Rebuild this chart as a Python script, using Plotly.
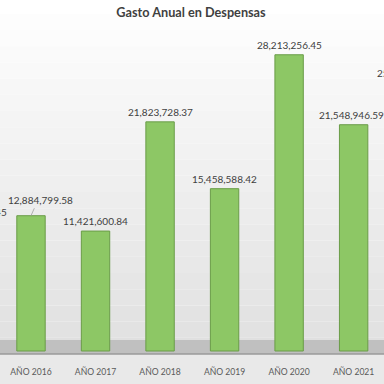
import plotly.graph_objects as go

# ---- data ----
categories = ["AÑO 2015", "AÑO 2016", "AÑO 2017", "AÑO 2018", "AÑO 2019",
              "AÑO 2020", "AÑO 2021", "AÑO 2022"]
gasto = [12263118.45, 12884799.58, 11421600.84, 21823728.37, 15458588.42,
         28213256.45, 21548946.59, 25486402.12]
visible_ticks = categories[1:-1]
title_text = "Gasto Anual en Despensas"

# label nudges (style): Excel labels that were dragged
label_dx = [8, 9, 0, 0, 0, 0, -2, -9]
label_dy = [0, 6, 0, 0, 0, 0, 0, 0]

# the chart is wider than the window; the window shows the middle part
VIEW_W, H = 384, 384
OFF = 70
W = VIEW_W + 2 * OFF
PX_PER_CAT = 64.5

fig = go.Figure()

fig.add_trace(go.Bar(
    x=categories, y=gasto, width=0.44,
    marker=dict(color="#8dc765", line=dict(color="#6a9c48", width=1)),
    cliponaxis=False, hoverinfo="skip",
))

annotations = []
for cat, v, dx, dy in zip(categories, gasto, label_dx, label_dy):
    annotations.append(dict(
        x=cat, y=v, xref="x", yref="y", text=f"{v:,.2f}",
        showarrow=False, xanchor="center", yanchor="bottom",
        xshift=dx, yshift=2 + dy,
        font=dict(family="Lato", size=10, color="#404040")))
# leader line for the dragged 2016 label
annotations.append(dict(
    x=categories[1], y=gasto[1], xref="x", yref="y", text="",
    showarrow=True, arrowhead=0, arrowwidth=0.8, arrowcolor="#a0a0a0",
    ax=4, ay=-9, standoff=0))

# background gradient bands (style only)
shapes = []
n = 24
for i in range(n):
    t = i / (n - 1)
    c = int(255 - 33 * t)
    shapes.append(dict(type="rect", xref="paper", yref="paper", layer="below",
                       x0=-0.01, x1=1.01, y0=1.1 - (i + 1) * 1.2 / n, y1=1.1 - i * 1.2 / n,
                       fillcolor=f"rgb({c},{c},{c})", line=dict(width=0)))
# floor band
shapes.append(dict(type="rect", xref="paper", yref="paper", layer="below",
                   x0=-0.01, x1=1.01, y0=0.0, y1=14 / 324,
                   fillcolor="#c0c0c0", line=dict(width=0)))
shapes.append(dict(type="line", xref="paper", yref="paper", layer="above",
                   x0=-0.01, x1=1.01, y0=0.0, y1=0.0,
                   line=dict(color="#9a9a9a", width=1.5)))
# lower label area
shapes.append(dict(type="rect", xref="paper", yref="paper", layer="below",
                   x0=-0.01, x1=1.01, y0=-30 / 324, y1=0.0,
                   fillcolor="#e9e9e9", line=dict(width=0)))

x0 = 0.52 - OFF / PX_PER_CAT
x1 = 6.47 + OFF / PX_PER_CAT

fig.update_layout(
    width=W, height=H,
    margin=dict(l=0, r=0, t=30, b=30),
    paper_bgcolor="#ffffff", plot_bgcolor="rgba(0,0,0,0)",
    showlegend=False, bargap=0.5,
    shapes=shapes, annotations=annotations,
    title=dict(text=f"<b>{title_text}</b>", x=(191 + OFF) / W, xanchor="center",
               y=1 - 13 / H, yanchor="middle",
               font=dict(family="Lato", size=12.7, color="#404040")),
    xaxis=dict(range=[x0, x1], showgrid=False, zeroline=False, showline=False,
               ticks="", ticklabelstandoff=11,
               tickmode="array", tickvals=visible_ticks, ticktext=visible_ticks,
               tickfont=dict(family="Lato", size=8.6, color="#595959")),
    yaxis=dict(range=[-0.286e6, 30.571e6], visible=False),
)

fig.write_html(
    "out.html", config={"displayModeBar": False},
    post_script=("document.body.style.margin='0';"
                 f"document.body.style.marginLeft='-{OFF}px';"
                 "document.body.style.overflow='hidden';"
                 "document.documentElement.style.overflow='hidden';"))
